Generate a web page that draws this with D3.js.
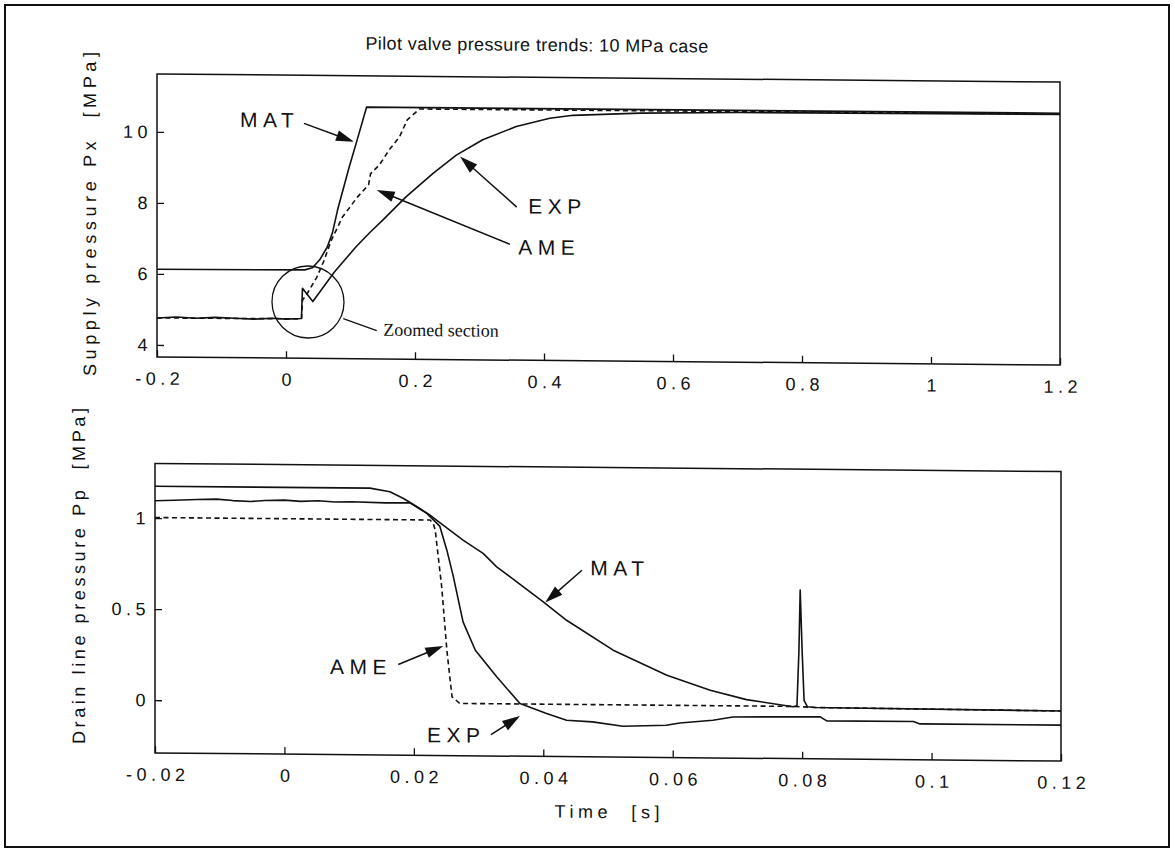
<!DOCTYPE html>
<html>
<head>
<meta charset="utf-8">
<script src="https://cdn.jsdelivr.net/npm/d3@7"></script>
<style>
  html, body { margin: 0; padding: 0; background: #fff; }
  svg { display: block; }
  text { font-family: "Liberation Sans", Arial, Helvetica, sans-serif; fill: #111; }
</style>
</head>
<body>
<svg id="chart" width="1175" height="854"></svg>
<script>
// ---------------- data ----------------
const pxTicks = [-0.2, 0, 0.2, 0.4, 0.6, 0.8, 1, 1.2];
const pxTickLabels = ["-0.2", "0", "0.2", "0.4", "0.6", "0.8", "1", "1.2"];
const pxYTicks = [4, 6, 8, 10];
const pxYTickLabels = ["4", "6", "8", "10"];

const ppTicks = [-0.02, 0, 0.02, 0.04, 0.06, 0.08, 0.1, 0.12];
const ppTickLabels = ["-0.02", "0", "0.02", "0.04", "0.06", "0.08", "0.1", "0.12"];
const ppYTicks = [0, 0.5, 1];
const ppYTickLabels = ["0", "0.5", "1"];

// Supply pressure Px [MPa] against time [s]
const pxMAT = [[-0.2, 6.13], [0.029, 6.15], [0.041, 6.21], [0.052, 6.43], [0.064, 6.80],
  [0.072, 7.20], [0.080, 7.85], [0.098, 9.06], [0.109, 9.74], [0.125, 10.75], [1.2, 10.75]];
const pxAME = [[-0.2, 4.76], [0.024, 4.77], [0.0256, 5.30], [0.0318, 5.45], [0.0473, 5.93],
  [0.0581, 6.38], [0.0705, 7.00], [0.0876, 7.65], [0.111, 8.22], [0.128, 8.56], [0.131, 8.87],
  [0.145, 9.13], [0.160, 9.55], [0.176, 9.92], [0.188, 10.40], [0.207, 10.71], [1.2, 10.73]];
const pxEXP = [[-0.2, 4.76], [-0.17, 4.79], [-0.14, 4.76], [-0.11, 4.79], [-0.08, 4.77],
  [-0.05, 4.75], [-0.02, 4.78], [0.0, 4.76], [0.024, 4.78], [0.0255, 5.63], [0.0416, 5.26],
  [0.0566, 5.64], [0.075, 6.10], [0.092, 6.46], [0.109, 6.82], [0.130, 7.22], [0.150, 7.57],
  [0.186, 8.23], [0.228, 8.90], [0.264, 9.42], [0.305, 9.86], [0.357, 10.24], [0.409, 10.48],
  [0.445, 10.57], [0.549, 10.65], [0.70, 10.69], [1.2, 10.72]];

// Drain line pressure Pp [MPa] against time [s]
const ppMAT = [[-0.02, 1.175], [0.0132, 1.175], [0.0163, 1.156], [0.0184, 1.120], [0.0205, 1.075],
  [0.0225, 1.030], [0.0235, 1.003], [0.0276, 0.894], [0.0307, 0.822], [0.0328, 0.749],
  [0.0400, 0.559], [0.0436, 0.459], [0.0508, 0.297], [0.0591, 0.162], [0.0658, 0.082],
  [0.0714, 0.032], [0.0786, -0.005], [0.0792, 0.0], [0.0795, 0.30], [0.0797, 0.636],
  [0.0800, 0.30], [0.0803, 0.03], [0.0808, -0.004], [0.082, -0.008], [0.12, -0.015]];
const ppAME = [[-0.02, 1.003], [0.0225, 1.003], [0.0230, 0.984], [0.0233, 0.948], [0.0243, 0.637],
  [0.0251, 0.289], [0.0259, 0.033], [0.0271, -0.003], [0.0786, -0.003], [0.082, -0.008], [0.12, -0.015]];
const ppEXP = [[-0.02, 1.095], [-0.017, 1.099], [-0.0135, 1.104], [-0.0105, 1.107], [-0.008, 1.100],
  [-0.0052, 1.096], [-0.003, 1.102], [0.0, 1.105], [0.0025, 1.099], [0.0052, 1.103], [0.0078, 1.097],
  [0.0104, 1.099], [0.0156, 1.095], [0.0194, 1.096], [0.022, 1.039], [0.024, 0.970], [0.0251, 0.838],
  [0.0256, 0.766], [0.0261, 0.693], [0.0276, 0.445], [0.0295, 0.290], [0.0328, 0.145],
  [0.0364, -0.001], [0.0405, -0.054], [0.0436, -0.090], [0.0476, -0.098], [0.0523, -0.120],
  [0.0590, -0.113], [0.0611, -0.100], [0.0662, -0.083], [0.0693, -0.064], [0.0828, -0.059],
  [0.0838, -0.081], [0.0972, -0.080], [0.0982, -0.093], [0.12, -0.093]];

// labelled arrows: where each arrow points, in data units
const pxNotes = [{ label: "MAT", t: 0.1054, v: 9.77 }, { label: "EXP", t: 0.2698, v: 9.38 }, { label: "AME", t: 0.1406, v: 8.42 }];
const ppNotes = [{ label: "MAT", t: 0.0403, v: 0.556 }, { label: "AME", t: 0.02455, v: 0.312 }, { label: "EXP", t: 0.0364, v: -0.069 }];
const zoomMark = { label: "Zoomed section", t: 0.0341, v: 5.246 };

const titleText = "Pilot valve pressure trends: 10 MPa case";
const pxYLabel = "Supply pressure Px  [MPa]";
const ppYLabel = "Drain line pressure Pp  [MPa]";
const xLabel = "Time  [s]";

// ---------------- layout ----------------
const svg = d3.select("#chart");
const INK = "#111";

// outer frame of the figure
svg.append("rect").attr("x", 5).attr("y", 5).attr("width", 1164).attr("height", 842)
  .attr("fill", "none").attr("stroke", INK).attr("stroke-width", 2);

// the printed page is slightly sheared: horizontal lines drop towards the right
const page = svg.append("g").attr("transform", "translate(0,-5.41) skewY(0.51)");

const xTop = d3.scaleLinear().domain([-0.2, 1.2]).range([157, 1060]);
const yTop = d3.scaleLinear().domain([3.66, 11.63]).range([361, 78]);
const xBot = d3.scaleLinear().domain([-0.02, 0.12]).range([155, 1061]);
const yBot = d3.scaleLinear().domain([-0.29, 1.30]).range([757, 467.5]);

const noteLayout = {
  top: { MAT: { tail: [-50, -18], text: [-114, -13.7] },
         EXP: { tail: [56.7, 50], text: [68.3, 56.3] },
         AME: { tail: [133.3, 53.3], text: [141.6, 63.3] } },
  bottom: { MAT: { tail: [36.7, -32.5], text: [45, -27.5] },
            AME: { tail: [-45, 19], text: [-113.3, 29] },
            EXP: { tail: [-29, 19], text: [-93, 27] } }
};

function drawPanel(x, y, xt, xtl, yt, ytl, series, notes, layout, yLabel, yLabelPos) {
  const [x0, x1] = x.range();
  const [y0, y1] = y.range();
  const g = page.append("g");

  // bottom axis with inward ticks
  const ax = g.append("g").attr("transform", `translate(0,${y0})`)
    .call(d3.axisBottom(x).tickValues(xt).tickFormat((d, i) => xtl[i])
      .tickSizeInner(-7).tickSizeOuter(0).tickPadding(15));
  // left axis with inward ticks
  const ay = g.append("g").attr("transform", `translate(${x0},0)`)
    .call(d3.axisLeft(y).tickValues(yt).tickFormat((d, i) => ytl[i])
      .tickSizeInner(-7).tickSizeOuter(0).tickPadding(5));
  [ax, ay].forEach(a => {
    a.select(".domain").remove();
    a.selectAll(".tick line").attr("stroke", INK).attr("stroke-width", 1.3);
    a.selectAll(".tick text").attr("fill", INK)
      .style("font-family", '"Liberation Sans", Arial, sans-serif')
      .style("font-size", "18px").style("letter-spacing", "4.5px");
  });
  ax.selectAll(".tick text").attr("dx", 2.2);

  // axes box
  g.append("rect").attr("x", x0).attr("y", y1).attr("width", x1 - x0).attr("height", y0 - y1)
    .attr("fill", "none").attr("stroke", INK).attr("stroke-width", 1.5);

  const line = d3.line().x(d => x(d[0])).y(d => y(d[1]));
  series.forEach(s => {
    g.append("path").datum(s.data).attr("d", line).attr("fill", "none")
      .attr("stroke", INK).attr("stroke-width", 1.6)
      .attr("stroke-linejoin", "round")
      .attr("stroke-dasharray", s.dash || null);
  });

  // labelled arrows
  notes.forEach(n => {
    const L = layout[n.label];
    const tx = x(n.t), ty = y(n.v);
    drawArrow(g, tx + L.tail[0], ty + L.tail[1], tx, ty);
    g.append("text").attr("x", tx + L.text[0]).attr("y", ty + L.text[1])
      .style("font-size", "21px").style("letter-spacing", "5.5px").text(n.label);
  });

  // y-axis title
  g.append("text")
    .attr("transform", `translate(${yLabelPos[0]},${yLabelPos[1]}) rotate(-90)`)
    .attr("text-anchor", "middle")
    .attr("textLength", yLabelPos[2]).attr("lengthAdjust", "spacing")
    .style("font-size", "18px").style("white-space", "pre")
    .text(yLabel);
  return g;
}

function drawArrow(g, x1, y1, x2, y2) {
  const len = Math.hypot(x2 - x1, y2 - y1), ux = (x2 - x1) / len, uy = (y2 - y1) / len;
  const head = 18, half = 5.5;
  const bx = x2 - ux * head, by = y2 - uy * head;
  g.append("line").attr("x1", x1).attr("y1", y1).attr("x2", bx + ux * 2).attr("y2", by + uy * 2)
    .attr("stroke", INK).attr("stroke-width", 1.5);
  g.append("polygon")
    .attr("points", [[x2, y2], [bx - uy * half, by + ux * half], [bx + uy * half, by - ux * half]].map(p => p.join(",")).join(" "))
    .attr("fill", INK);
}

// title
page.append("text").attr("x", 537).attr("y", 51.6).attr("text-anchor", "middle")
  .style("font-size", "18px").style("letter-spacing", "0.4px").text(titleText);

// upper panel: supply pressure
const topPanel = drawPanel(xTop, yTop, pxTicks, pxTickLabels, pxYTicks, pxYTickLabels,
  [{ data: pxAME, dash: "5,3.5" }, { data: pxEXP }, { data: pxMAT }],
  pxNotes, noteLayout.top, pxYLabel, [96, 218.6, 324]);

// circled region around the start of the rise
{
  const cx = xTop(zoomMark.t), cy = yTop(zoomMark.v), r = 36;
  topPanel.append("circle").attr("cx", cx).attr("cy", cy).attr("r", r)
    .attr("fill", "none").attr("stroke", INK).attr("stroke-width", 1.3);
  topPanel.append("line").attr("x1", cx + 35.3).attr("y1", cy + 16.3)
    .attr("x2", cx + 68.7).attr("y2", cy + 28).attr("stroke", INK).attr("stroke-width", 1.3);
  topPanel.append("text").attr("x", cx + 75.3).attr("y", cy + 33)
    .style("font-family", '"Liberation Serif", "Times New Roman", serif')
    .style("font-size", "18px").text(zoomMark.label);
}

// lower panel: drain line pressure
drawPanel(xBot, yBot, ppTicks, ppTickLabels, ppYTicks, ppYTickLabels,
  [{ data: ppAME, dash: "5,3.5" }, { data: ppEXP }, { data: ppMAT }],
  ppNotes, noteLayout.bottom, ppYLabel, [85, 580.7, 336]);

// shared x-axis title
page.append("text").attr("x", 607).attr("y", 818).attr("text-anchor", "middle")
  .attr("textLength", 105).attr("lengthAdjust", "spacing")
  .style("font-size", "18px").style("white-space", "pre").text(xLabel);
</script>
</body>
</html>
